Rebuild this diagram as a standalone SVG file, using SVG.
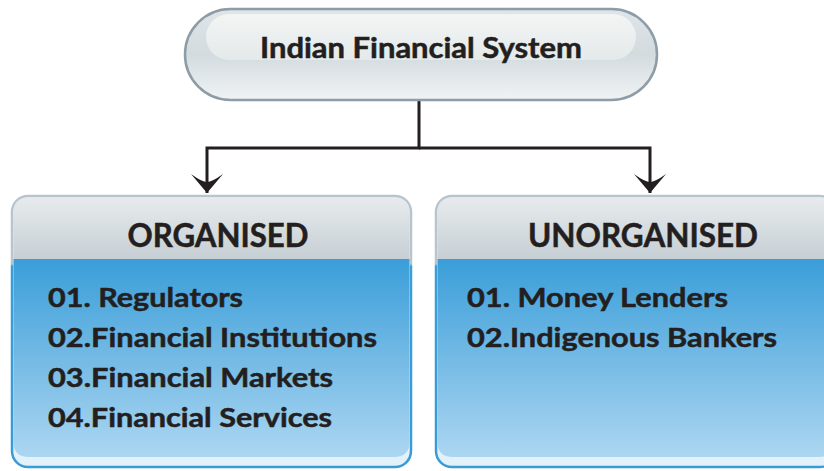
<svg xmlns="http://www.w3.org/2000/svg" width="824" height="471" viewBox="0 0 824 471">
  <defs>
    <linearGradient id="pillFill" x1="0" y1="0" x2="0" y2="1">
      <stop offset="0" stop-color="#dfe5e8"/>
      <stop offset="0.5" stop-color="#d3dbdf"/>
      <stop offset="1" stop-color="#f0f3f4"/>
    </linearGradient>
    <linearGradient id="pillHi" x1="0" y1="0" x2="0" y2="1">
      <stop offset="0" stop-color="#f3f5f4"/>
      <stop offset="1" stop-color="#e4e9ea"/>
    </linearGradient>
    <linearGradient id="headFill" x1="0" y1="0" x2="0" y2="1">
      <stop offset="0" stop-color="#e7ebed"/>
      <stop offset="1" stop-color="#c6cfd5"/>
    </linearGradient>
    <linearGradient id="bodyFill" x1="0" y1="0" x2="0" y2="1">
      <stop offset="0" stop-color="#3a9ed9"/>
      <stop offset="1" stop-color="#acd6f1"/>
    </linearGradient>
    <linearGradient id="boxStroke" x1="0" y1="0" x2="0" y2="1">
      <stop offset="0" stop-color="#b9c5cd"/>
      <stop offset="0.25" stop-color="#b9c5cd"/>
      <stop offset="0.26" stop-color="#3a9ed9"/>
      <stop offset="1" stop-color="#3a9bd6"/>
    </linearGradient>
    <marker id="arrow" markerUnits="userSpaceOnUse" markerWidth="22" markerHeight="36" viewBox="-20 -18 22 36" refX="0" refY="0" orient="auto">
      <path d="M0,0 L-19,-16 Q-11,-5 -11,0 Q-11,5 -19,16 Z" fill="#231f20"/>
    </marker>
    <style>
      .t { font-family: "Lato", "Open Sans", "Liberation Sans", sans-serif; font-weight: bold; fill: #231f20; stroke: #231f20; stroke-width: 0.5; }
      .title { font-size: 28px; }
      .head { font-size: 32px; }
      .item { font-size: 27px; }
      .conn { fill: none; stroke: #231f20; stroke-width: 3; }
    </style>
  </defs>

  <g id="connectors">
    <path class="conn" d="M419,100 V148 H207 V193" marker-end="url(#arrow)"/>
    <path class="conn" d="M419,148 H650 V193" marker-end="url(#arrow)"/>
  </g>

  <g id="root">
    <rect x="185" y="9" width="472" height="91" rx="45.5" fill="url(#pillFill)" stroke="#8d9ca6" stroke-width="2.5"/>
    <rect x="206" y="14" width="430" height="46" rx="23" fill="url(#pillHi)"/>
    <text class="t title" x="421" y="58" text-anchor="middle" textLength="322" lengthAdjust="spacingAndGlyphs">Indian Financial System</text>
  </g>

  <g id="organised">
    <rect x="12" y="196" width="399" height="271" rx="16" fill="#e3f1fb" stroke="url(#boxStroke)" stroke-width="2.5"/>
    <path d="M13.5,259 V213 Q13.5,197.5 29,197.5 H394 Q409.5,197.5 409.5,213 V259 Z" fill="url(#headFill)"/>
    <path d="M13.5,259 H409.5 V442 Q409.5,457 394,457 H29 Q13.5,457 13.5,442 Z" fill="url(#bodyFill)"/>
    <text class="t head" x="218" y="247" text-anchor="middle" textLength="181" lengthAdjust="spacingAndGlyphs">ORGANISED</text>
    <text class="t item" x="48" y="307" textLength="195" lengthAdjust="spacingAndGlyphs">01. Regulators</text>
    <text class="t item" x="48" y="347" textLength="329" lengthAdjust="spacingAndGlyphs">02.Financial Institutions</text>
    <text class="t item" x="48" y="387" textLength="285" lengthAdjust="spacingAndGlyphs">03.Financial Markets</text>
    <text class="t item" x="48" y="427" textLength="284" lengthAdjust="spacingAndGlyphs">04.Financial Services</text>
  </g>

  <g id="unorganised">
    <rect x="436" y="196" width="400" height="271" rx="16" fill="#e3f1fb" stroke="url(#boxStroke)" stroke-width="2.5"/>
    <path d="M437.5,259 V213 Q437.5,197.5 453,197.5 H819 Q834.5,197.5 834.5,213 V259 Z" fill="url(#headFill)"/>
    <path d="M437.5,259 H834.5 V442 Q834.5,457 819,457 H453 Q437.5,457 437.5,442 Z" fill="url(#bodyFill)"/>
    <text class="t head" x="643" y="247" text-anchor="middle" textLength="230" lengthAdjust="spacingAndGlyphs">UNORGANISED</text>
    <text class="t item" x="467" y="307" textLength="261" lengthAdjust="spacingAndGlyphs">01. Money Lenders</text>
    <text class="t item" x="467" y="347" textLength="310" lengthAdjust="spacingAndGlyphs">02.Indigenous Bankers</text>
  </g>
</svg>
